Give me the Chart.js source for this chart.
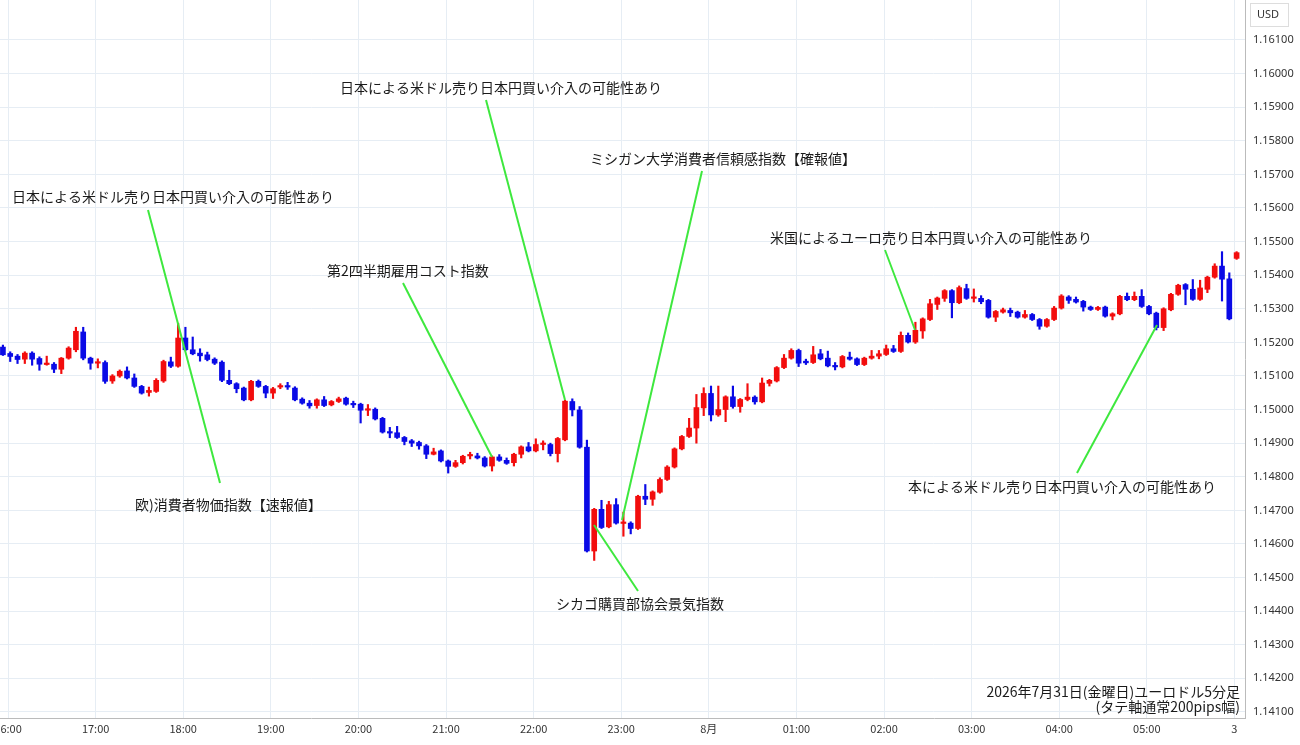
<!DOCTYPE html>
<html><head><meta charset="utf-8">
<script src="https://cdn.jsdelivr.net/npm/chart.js@4/dist/chart.umd.min.js"></script>
<style>html,body{margin:0;padding:0;background:#fff}#wrap{width:1300px;height:745px}</style>
</head><body><div id="wrap"><canvas id="c" width="1300" height="745"></canvas></div>
<script>
const openP=[1.15186,1.15167,1.15159,1.15150,1.15168,1.15152,1.15134,1.15135,1.15120,1.15153,1.15178,1.15231,1.15153,1.15138,1.15140,1.15085,1.15100,1.15115,1.15094,1.15069,1.15051,1.15054,1.15085,1.15142,1.15129,1.15213,1.15178,1.15168,1.15163,1.15150,1.15141,1.15087,1.15077,1.15064,1.15029,1.15084,1.15069,1.15049,1.15067,1.15070,1.15064,1.15031,1.15019,1.15012,1.15029,1.15014,1.15024,1.15034,1.15017,1.15016,1.14998,1.15001,1.14974,1.14933,1.14931,1.14917,1.14907,1.14902,1.14892,1.14867,1.14877,1.14847,1.14831,1.14842,1.14862,1.14862,1.14856,1.14832,1.14859,1.14849,1.14842,1.14867,1.14889,1.14877,1.14896,1.14896,1.14869,1.14910,1.15024,1.14999,1.14888,1.14579,1.14703,1.14651,1.14717,1.14661,1.14662,1.14646,1.14742,1.14733,1.14754,1.14792,1.14829,1.14883,1.14920,1.14945,1.15005,1.15048,1.14984,1.15000,1.15038,1.15009,1.15030,1.15037,1.15023,1.15078,1.15085,1.15125,1.15153,1.15176,1.15144,1.15140,1.15166,1.15153,1.15130,1.15127,1.15156,1.15151,1.15134,1.15153,1.15159,1.15164,1.15181,1.15173,1.15221,1.15201,1.15234,1.15268,1.15313,1.15331,1.15354,1.15318,1.15360,1.15331,1.15331,1.15325,1.15275,1.15290,1.15295,1.15290,1.15275,1.15283,1.15268,1.15248,1.15268,1.15302,1.15335,1.15328,1.15322,1.15305,1.15298,1.15305,1.15278,1.15285,1.15337,1.15327,1.15337,1.15307,1.15287,1.15244,1.15297,1.15343,1.15372,1.15358,1.15328,1.15358,1.15394,1.15427,1.15389,1.15450];
const highP=[1.15192,1.15172,1.15164,1.15172,1.15172,1.15157,1.15159,1.15140,1.15155,1.15187,1.15245,1.15245,1.15156,1.15151,1.15145,1.15104,1.15118,1.15127,1.15106,1.15072,1.15067,1.15092,1.15147,1.15156,1.15257,1.15245,1.15216,1.15181,1.15171,1.15154,1.15145,1.15117,1.15080,1.15067,1.15087,1.15088,1.15072,1.15066,1.15077,1.15081,1.15068,1.15035,1.15027,1.15032,1.15039,1.15027,1.15037,1.15037,1.15025,1.15019,1.15015,1.15005,1.14977,1.14947,1.14950,1.14920,1.14911,1.14906,1.14896,1.14885,1.14880,1.14850,1.14849,1.14864,1.14873,1.14870,1.14860,1.14862,1.14866,1.14856,1.14870,1.14892,1.14902,1.14913,1.14907,1.14900,1.14917,1.15028,1.15032,1.15009,1.14909,1.14706,1.14730,1.14727,1.14735,1.14695,1.14666,1.14745,1.14777,1.14758,1.14797,1.14833,1.14886,1.14923,1.14974,1.15045,1.15065,1.15070,1.15070,1.15041,1.15070,1.15033,1.15077,1.15041,1.15094,1.15090,1.15128,1.15164,1.15181,1.15180,1.15150,1.15188,1.15179,1.15174,1.15140,1.15161,1.15171,1.15154,1.15156,1.15176,1.15176,1.15192,1.15191,1.15231,1.15228,1.15260,1.15273,1.15328,1.15335,1.15357,1.15357,1.15368,1.15373,1.15359,1.15339,1.15328,1.15295,1.15302,1.15302,1.15293,1.15295,1.15286,1.15271,1.15271,1.15307,1.15342,1.15339,1.15335,1.15325,1.15308,1.15307,1.15308,1.15288,1.15340,1.15347,1.15350,1.15357,1.15310,1.15290,1.15303,1.15346,1.15373,1.15375,1.15387,1.15385,1.15397,1.15434,1.15470,1.15407,1.15470];
const lowP=[1.15161,1.15143,1.15137,1.15137,1.15132,1.15117,1.15132,1.15110,1.15107,1.15150,1.15172,1.15148,1.15120,1.15124,1.15078,1.15078,1.15096,1.15091,1.15066,1.15046,1.15040,1.15051,1.15081,1.15125,1.15126,1.15175,1.15163,1.15144,1.15145,1.15134,1.15083,1.15074,1.15050,1.15026,1.15026,1.15066,1.15035,1.15033,1.15062,1.15060,1.15026,1.15016,1.15004,1.15004,1.15009,1.15011,1.15021,1.15013,1.15006,1.14960,1.14982,1.14969,1.14930,1.14916,1.14914,1.14895,1.14890,1.14882,1.14854,1.14865,1.14844,1.14811,1.14828,1.14838,1.14853,1.14853,1.14829,1.14817,1.14846,1.14837,1.14832,1.14856,1.14874,1.14874,1.14880,1.14862,1.14844,1.14907,1.14981,1.14885,1.14576,1.14551,1.14646,1.14648,1.14659,1.14623,1.14630,1.14643,1.14717,1.14715,1.14751,1.14789,1.14826,1.14880,1.14917,1.14900,1.14982,1.14966,1.14980,1.14964,1.15004,1.14992,1.15026,1.15016,1.15020,1.15070,1.15082,1.15122,1.15150,1.15128,1.15134,1.15137,1.15148,1.15127,1.15118,1.15124,1.15147,1.15131,1.15131,1.15150,1.15151,1.15161,1.15170,1.15170,1.15198,1.15197,1.15212,1.15265,1.15298,1.15322,1.15273,1.15315,1.15328,1.15320,1.15315,1.15272,1.15262,1.15287,1.15277,1.15272,1.15272,1.15265,1.15239,1.15245,1.15265,1.15299,1.15316,1.15317,1.15293,1.15295,1.15295,1.15275,1.15267,1.15282,1.15324,1.15324,1.15304,1.15282,1.15237,1.15235,1.15294,1.15340,1.15312,1.15325,1.15325,1.15348,1.15391,1.15323,1.15267,1.15447];
const closeP=[1.15163,1.15158,1.15149,1.15168,1.15150,1.15135,1.15136,1.15120,1.15153,1.15183,1.15233,1.15153,1.15138,1.15141,1.15084,1.15100,1.15114,1.15094,1.15069,1.15049,1.15057,1.15087,1.15143,1.15129,1.15213,1.15178,1.15166,1.15160,1.15149,1.15138,1.15087,1.15077,1.15062,1.15029,1.15084,1.15069,1.15049,1.15062,1.15070,1.15067,1.15029,1.15019,1.15011,1.15029,1.15012,1.15024,1.15032,1.15016,1.15014,1.14998,1.15002,1.14972,1.14933,1.14930,1.14917,1.14905,1.14900,1.14892,1.14867,1.14874,1.14847,1.14831,1.14842,1.14861,1.14865,1.14856,1.14832,1.14859,1.14849,1.14840,1.14867,1.14889,1.14877,1.14896,1.14900,1.14869,1.14914,1.15025,1.14999,1.14888,1.14579,1.14703,1.14649,1.14717,1.14662,1.14664,1.14646,1.14742,1.14733,1.14755,1.14792,1.14829,1.14883,1.14920,1.14945,1.15006,1.15048,1.14984,1.15000,1.15038,1.15009,1.15030,1.15037,1.15023,1.15079,1.15087,1.15125,1.15153,1.15176,1.15138,1.15139,1.15163,1.15151,1.15130,1.15127,1.15158,1.15150,1.15134,1.15153,1.15159,1.15166,1.15181,1.15173,1.15221,1.15201,1.15236,1.15270,1.15315,1.15332,1.15354,1.15318,1.15363,1.15331,1.15333,1.15321,1.15275,1.15292,1.15297,1.15288,1.15275,1.15283,1.15268,1.15248,1.15268,1.15302,1.15338,1.15325,1.15320,1.15305,1.15298,1.15304,1.15278,1.15285,1.15337,1.15327,1.15337,1.15307,1.15285,1.15244,1.15300,1.15343,1.15370,1.15358,1.15328,1.15362,1.15394,1.15427,1.15388,1.15270,1.15467];
const hourLabels=["16:00","17:00","18:00","19:00","20:00","21:00","22:00","23:00","8月","01:00","02:00","03:00","04:00","05:00","3"];
const notes=[
 {t:"日本による米ドル売り日本円買い介入の可能性あり",x:12,y:197,a:[148,210],b:[220,483]},
 {t:"欧)消費者物価指数【速報値】",x:135,y:505},
 {t:"第2四半期雇用コスト指数",x:327,y:271,a:[403,283],b:[492,457]},
 {t:"日本による米ドル売り日本円買い介入の可能性あり",x:340,y:88,a:[486,100],b:[565,400]},
 {t:"ミシガン大学消費者信頼感指数【確報値】",x:590,y:159,a:[702,171],b:[622,520]},
 {t:"シカゴ購買部協会景気指数",x:556,y:604,a:[638,591],b:[594,525]},
 {t:"米国によるユーロ売り日本円買い介入の可能性あり",x:770,y:238,a:[885,250],b:[915,330]},
 {t:"本による米ドル売り日本円買い介入の可能性あり",x:908,y:487,a:[1077,473],b:[1157,325]}
];
const RED='#f20d0d',BLUE='#0a0ae6';
const idx=closeP.map((_,i)=>i);
const col=idx.map(i=>closeP[i]>=openP[i]?RED:BLUE);
const wick=idx.map(i=>({x:i,y:[lowP[i],highP[i]]}));
const body=idx.map(i=>({x:i,y:[openP[i],closeP[i]]}));
const tickPos=hourLabels.map((_,k)=>12*k+0.7);
const overlay={id:'overlay',afterDatasetsDraw(ch){
 const c=ch.ctx;c.save();
 c.strokeStyle='#3ee83e';c.lineWidth=2;
 notes.forEach(n=>{if(n.a){c.beginPath();c.moveTo(n.a[0],n.a[1]);c.lineTo(n.b[0],n.b[1]);c.stroke();}});
 c.font='14px "Noto Sans CJK JP"';c.fillStyle='#1a1a1a';c.textBaseline='middle';
 notes.forEach(n=>c.fillText(n.t,n.x,n.y));
 c.textAlign='right';
 c.fillText('2026年7月31日(金曜日)ユーロドル5分足',1240,692);
 c.fillText('(タテ軸通常200pips幅)',1240,707);
 c.textAlign='left';c.font='11px "Noto Sans"';c.fillStyle='#333';c.fillText('USD',1257,15);
 c.strokeStyle='#ddd';c.lineWidth=1;c.strokeRect(1250.5,3.5,38,23);
 c.restore();}};
new Chart(document.getElementById('c'),{
 type:'bar',
 data:{datasets:[
  {data:wick,backgroundColor:col,barThickness:1.5,grouped:false,order:2},
  {data:body,backgroundColor:col,barThickness:5,grouped:false,minBarLength:1.5,order:1}]},
 options:{responsive:false,animation:false,
  layout:{padding:0},
  plugins:{legend:{display:false},tooltip:{enabled:false}},
  scales:{
   x:{type:'linear',min:-0.4,max:170.15,offset:false,
    afterBuildTicks:s=>{s.ticks=tickPos.map(v=>({value:v}));},
    afterFit:s=>{s.height=27;s.paddingLeft=0;s.paddingRight=0;},
    ticks:{autoSkip:false,maxRotation:0,color:'#333',font:{family:'Noto Sans CJK JP',size:11},padding:4,
      callback:(v,i)=>hourLabels[i]},
    grid:{color:'#e6edf4',drawTicks:false,offset:false},border:{color:'#bbb'}},
   y:{position:'right',min:1.14082,max:1.16219,
    afterBuildTicks:s=>{const t=[];for(let k=0;k<=20;k++){t.push({value:1.141+k*0.001});}s.ticks=t;},
    afterFit:s=>{s.width=55;s.paddingTop=0;s.paddingBottom=0;},
    ticks:{color:'#333',font:{family:'Noto Sans',size:11},padding:8,callback:v=>v.toFixed(5)},
    grid:{color:'#e6edf4',drawTicks:false},border:{color:'#bbb'}}
  }},
 plugins:[overlay]});
</script></body></html>
